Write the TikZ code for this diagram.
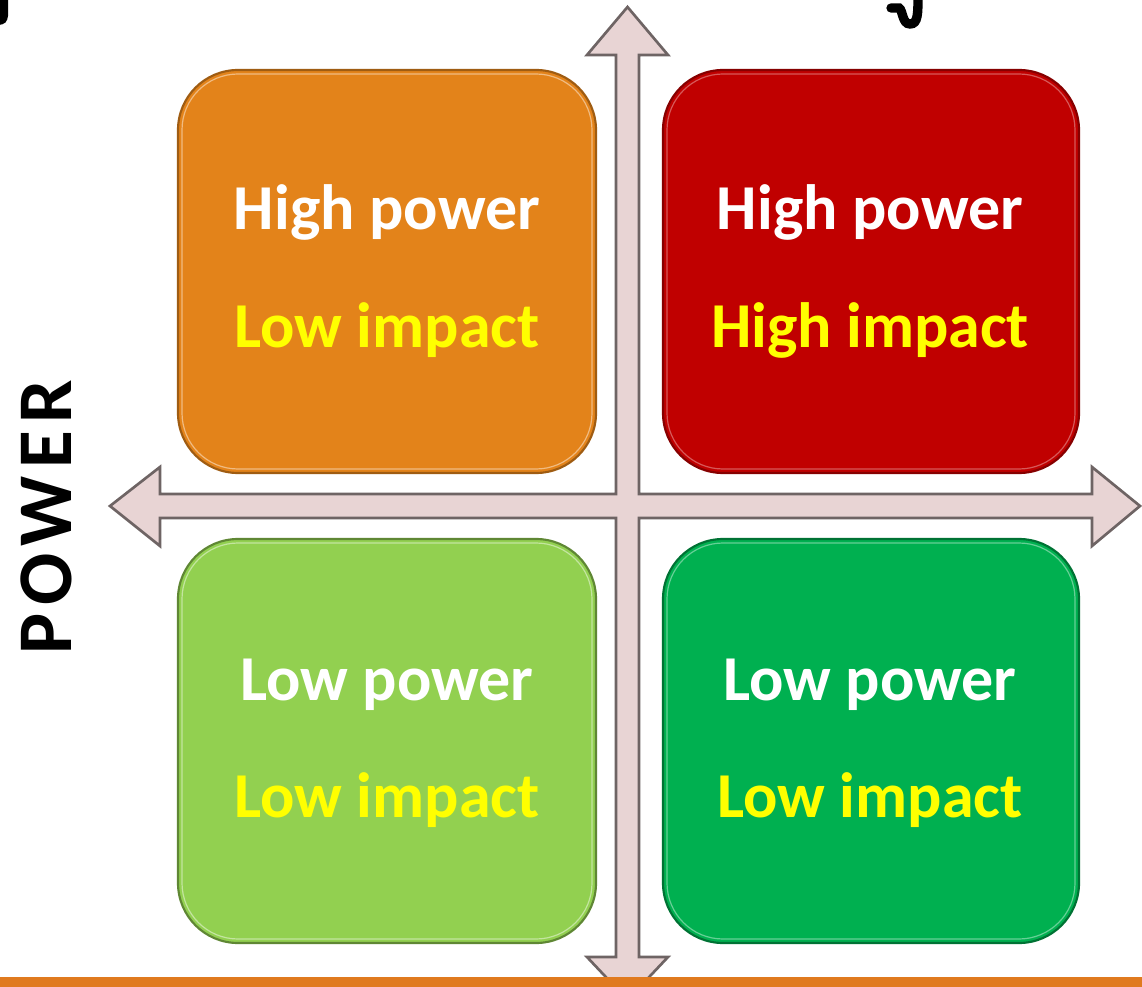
\documentclass[tikz,border=0pt]{standalone}
\usepackage{fontspec}
\setmainfont{Carlito}
\definecolor{qorange}{HTML}{E3831A}
\definecolor{qred}{HTML}{C00000}
\definecolor{qlgreen}{HTML}{92D050}
\definecolor{qdgreen}{HTML}{00B050}
\definecolor{arrowfill}{HTML}{E8D4D4}
\definecolor{arrowline}{HTML}{6E6464}
\definecolor{barorange}{HTML}{E07A1F}
\definecolor{tyellow}{HTML}{FFFF00}
\tikzset{
  quad/.style={rounded corners=45pt, line width=1.6pt},
  lineone/.style={anchor=base, text=white, font=\fontsize{48}{56}\selectfont\bfseries, inner sep=0pt},
  linetwo/.style={anchor=base, text=tyellow, font=\fontsize{48}{56}\selectfont\bfseries, inner sep=0pt},
}
\begin{document}
\begin{tikzpicture}[x=0.75pt,y=-0.75pt]
\useasboundingbox (0,0) rectangle (1142,987);
\fill[white] (0,0) rectangle (1142,987);
% quadrants
\draw[quad, fill=qorange, draw=qorange!70!black] (178,70) rectangle (596,473);
\draw[quad, fill=qred, draw=qred!70!black] (663,70) rectangle (1079,473);
\draw[quad, fill=qlgreen, draw=qlgreen!65!black] (178,539) rectangle (596,943);
\draw[quad, fill=qdgreen, draw=qdgreen!65!black] (663,539) rectangle (1079,943);
% inner highlights
\draw[rounded corners=42pt, line width=0.9pt, qorange!55!white] (182,74) rectangle (592,469);
\draw[rounded corners=42pt, line width=0.9pt, qred!65!white] (667,74) rectangle (1075,469);
\draw[rounded corners=42pt, line width=0.9pt, qlgreen!55!white] (182,543) rectangle (592,939);
\draw[rounded corners=42pt, line width=0.9pt, qdgreen!60!white] (667,543) rectangle (1075,939);
% cross arrows
\draw[fill=arrowfill, draw=arrowline, line width=2pt, line join=miter]
  (627.5,7) -- (668,55) -- (639,55) -- (639,494) -- (1092,494) -- (1092,467)
  -- (1140,506) -- (1092,546) -- (1092,518) -- (639,518) -- (639,957) -- (668,957)
  -- (627.5,1000) -- (587,957) -- (616,957) -- (616,518) -- (160,518) -- (160,546)
  -- (110,506) -- (160,467) -- (160,494) -- (616,494) -- (616,55) -- (587,55) -- cycle;
% bottom bar
\fill[barorange] (0,977) rectangle (1142,987);
% texts
\node[lineone] (t1a) at (387,230) {High power};
\node[linetwo] (t1b) at (387,348) {Low impact};
\node[lineone] (t2a) at (870,230) {High power};
\node[linetwo] (t2b) at (870,348) {High impact};
\node[lineone] (t3a) at (387,700) {Low power};
\node[linetwo] (t3b) at (387,817) {Low impact};
\node[lineone] (t4a) at (870,700) {Low power};
\node[linetwo] (t4b) at (870,817) {Low impact};
% axis label
\node[rotate=90, font=\fontsize{58}{70}\selectfont\bfseries\addfontfeature{LetterSpace=10}, inner sep=0pt] (power) at (46,517) {POWER};
% cut-off fragments at the top edge
\fill[black, rounded corners=3pt] (-5,-5) -- (8,-5) -- (8,20) -- (3,25) -- (-5,25) -- cycle;
\draw[black, line width=7pt, line cap=round] (891,8) -- (899,8) .. controls (903,10) and (902,24) .. (910,24) .. controls (918,24) and (918,14) .. (918,-5);
\end{tikzpicture}
\end{document}
